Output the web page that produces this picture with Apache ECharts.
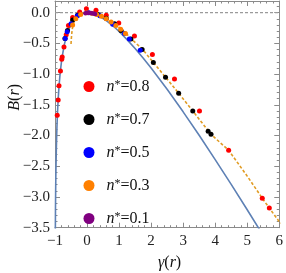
<!DOCTYPE html>
<html>
<head>
<meta charset="utf-8">
<script src="https://cdn.jsdelivr.net/npm/echarts@6/dist/echarts.min.js"></script>
<style>html,body{margin:0;padding:0;background:#fff}#c{width:286px;height:273px}</style>
</head>
<body>
<div id="c"></div>
<script>
// ---- data ----
const seriesNames = ['n*=0.8', 'n*=0.7', 'n*=0.5', 'n*=0.3', 'n*=0.1'];
const seriesColors = ['#ff0000', '#000000', '#0000ff', '#ff8000', '#800080'];

// solid blue curve (gamma, B)
const blueCurve = [[-0.99,-3.62],[-0.985,-3.21],[-0.98,-2.93],[-0.975,-2.71],[-0.97,-2.54],[-0.96,-2.26],[-0.95,-2.05],
  [-0.94,-1.87],[-0.93,-1.73],[-0.915,-1.55],[-0.90,-1.40],[-0.875,-1.20],[-0.85,-1.05],[-0.825,-0.92],[-0.80,-0.81],
  [-0.775,-0.72],[-0.75,-0.64],[-0.725,-0.57],[-0.70,-0.50],[-0.65,-0.40],[-0.60,-0.32],[-0.55,-0.25],[-0.50,-0.19],
  [-0.45,-0.15],[-0.40,-0.11],[-0.35,-0.081],[-0.30,-0.057],[-0.25,-0.038],[-0.20,-0.023],[-0.10,-0.005],[0,0],
  [0.1,-0.005],[0.2,-0.018],[0.3,-0.038],[0.4,-0.064],[0.5,-0.095],[0.6,-0.130],[0.7,-0.169],[0.8,-0.212],
  [0.9,-0.258],[1.0,-0.307],[1.25,-0.439],[1.5,-0.584],[1.75,-0.738],[2.0,-0.901],[2.5,-1.247],[3.0,-1.614],
  [3.5,-1.996],[4.0,-2.391],[4.5,-2.795],[5.0,-3.208],[5.5,-3.628]];

// dashed orange curve
const orangeCurve = [[-0.50,-0.51],[-0.49,-0.42],[-0.475,-0.33],[-0.455,-0.25],[-0.43,-0.19],[-0.40,-0.14],
  [-0.35,-0.09],[-0.30,-0.06],[-0.20,-0.02],[-0.10,0.0],[0,0.005],[0.1,0.003],[0.2,-0.005],[0.3,-0.02],[0.4,-0.04],
  [0.5,-0.065],[0.6,-0.10],[0.8,-0.16],[1.0,-0.24],[1.22,-0.34],[1.45,-0.46],[1.72,-0.59],[2.07,-0.81],
  [2.45,-1.05],[2.86,-1.31],[3.30,-1.60],[3.87,-1.98],[4.42,-2.24],[5.0,-2.66],[5.47,-3.02],[5.69,-3.18],[6.04,-3.43]];

const pts08 = [[-0.93,-1.67],[-0.90,-1.42],[-0.875,-1.19],[-0.83,-0.95],[-0.79,-0.76],[-0.775,-0.72],[-0.72,-0.56],
  [-0.65,-0.36],[-0.58,-0.21],[-0.45,-0.08],[-0.23,0.01],[-0.02,0.065],[0.28,0.04],[0.60,-0.04],[0.99,-0.17],
  [1.48,-0.38],[2.04,-0.68],[2.73,-1.08],[3.51,-1.60],[4.42,-2.24],[5.47,-3.02],[5.69,-3.18]];
const pts07 = [[-0.69,-0.42],[-0.61,-0.29],[-0.45,-0.12],[-0.30,-0.04],[0.35,-0.03],[0.60,-0.09],[0.86,-0.18],
  [1.06,-0.29],[1.37,-0.43],[1.72,-0.60],[2.07,-0.81],[2.45,-1.05],[2.86,-1.31],[3.30,-1.60],[3.78,-1.93],[3.87,-1.98]];
const pts05 = [[-0.68,-0.42],[-0.62,-0.31],[-0.50,-0.18],[-0.30,-0.05],[0.05,0.0],[0.40,-0.05],[0.80,-0.19],
  [1.17,-0.34],[1.32,-0.43],[1.66,-0.61]];
const pts03 = [[-0.45,-0.20],[-0.35,-0.10],[-0.20,-0.03],[0.0,0.0],[0.15,-0.01],[0.30,-0.03],[0.45,-0.06],
  [0.60,-0.10],[0.75,-0.15],[0.90,-0.21],[1.05,-0.27],[1.20,-0.34]];
const pts01 = [[-0.05,-0.01],[0.0,0.0],[0.05,0.0],[0.10,-0.005],[0.15,-0.01],[0.20,-0.015],[0.25,-0.02]];

const xTicks = [-1,0,1,2,3,4,5,6];
const yTicks = [-3.5,-3.0,-2.5,-2.0,-1.5,-1.0,-0.5,0.0];

// ---- chart ----
const FONT = 'Liberation Serif';
const frame = '#8a8a8a';
const fmtNum = (v, d) => (v < 0 ? '\u2212' : '') + Math.abs(v).toFixed(d);

function axisCommon(showLabel) {
  return {
    axisLine: {show: true, onZero: false, lineStyle: {color: frame, width: 1}},
    axisTick: {show: true, inside: true, length: 5, lineStyle: {color: frame}},
    minorTick: {show: true, splitNumber: 5, length: 2.5, lineStyle: {color: frame}},
    splitLine: {show: false},
    axisLabel: {show: showLabel, color: '#222', fontFamily: FONT, fontSize: 15}
  };
}

const chart = echarts.init(document.getElementById('c'), null, {renderer: 'canvas'});
const xMin = xTicks[0], xMax = xTicks[xTicks.length - 1];
const yMin = yTicks[0], yMax = 0.19;

const scatter = [pts08, pts07, pts05, pts03, pts01].map((d, i) => ({
  name: seriesNames[i], type: 'scatter', data: d, symbolSize: i === 4 ? 4.5 : 5,
  itemStyle: {color: seriesColors[i], opacity: 1}, z: 5, xAxisIndex: 0, yAxisIndex: 0
}));

chart.setOption({
  animation: false,
  grid: {left: 55, right: 4.5, top: 1, bottom: 45.3},
  xAxis: [
    Object.assign(axisCommon(true), {type: 'value', min: xMin, max: xMax, interval: 1, position: 'bottom',
      axisLabel: {show: true, color: '#222', fontFamily: FONT, fontSize: 15, margin: 6,
        formatter: v => fmtNum(v, 0)}}),
    Object.assign(axisCommon(false), {type: 'value', min: xMin, max: xMax, interval: 1, position: 'top'})
  ],
  yAxis: [
    Object.assign(axisCommon(true), {type: 'value', min: yMin, max: yMax, interval: 0.5, position: 'left',
      axisLabel: {show: true, color: '#222', fontFamily: FONT, fontSize: 15, margin: 5, showMaxLabel: false,
        formatter: v => v > 0.01 ? '' : fmtNum(v, 1)}}),
    Object.assign(axisCommon(false), {type: 'value', min: yMin, max: yMax, interval: 0.5, position: 'right'})
  ],
  legend: {
    data: seriesNames, orient: 'vertical', left: 78.5, top: 73.5, itemGap: 17,
    itemWidth: 11, itemHeight: 11, icon: 'circle', selectedMode: false,
    itemStyle: {opacity: 1},
    formatter: name => '{sp|}{i|n}{s|*}{r|' + name.slice(2) + '}',
    textStyle: {
      color: '#111', fontFamily: FONT, fontSize: 15,
      rich: {
        sp: {width: 7, fontSize: 15, lineHeight: 16},
        i: {fontFamily: FONT, fontStyle: 'italic', fontSize: 16, lineHeight: 16, color: '#111'},
        s: {fontFamily: FONT, fontSize: 12, lineHeight: 16, verticalAlign: 'top', color: '#111'},
        r: {fontFamily: FONT, fontSize: 16, lineHeight: 16, color: '#111'}
      }
    }
  },
  graphic: [
    {type: 'text', left: 7, top: 84, rotation: Math.PI / 2, originX: 0, originY: 0,
      style: {text: '{i|B}{n|(}{i|r}{n|)}', rich: {
        i: {fontFamily: FONT, fontStyle: 'italic', fontSize: 16, fill: '#111'},
        n: {fontFamily: FONT, fontSize: 16, fill: '#111'}}}},
    {type: 'text', left: 158, top: 255,
      style: {text: '{i|\u03b3}{n|(}{i|r}{n|)}', rich: {
        i: {fontFamily: FONT, fontStyle: 'italic', fontSize: 16, fill: '#111'},
        n: {fontFamily: FONT, fontSize: 16, fill: '#111'}}}}
  ],
  series: [
    {name: 'zero', type: 'line', data: [[xMin, 0], [xMax, 0]], symbol: 'none', silent: true,
      lineStyle: {color: '#9a9a9a', width: 1.2, type: [3, 2]}, z: 1},
    {name: 'theory', type: 'line', data: blueCurve, symbol: 'none', smooth: false,
      lineStyle: {color: '#5e81b5', width: 1.6}, z: 3},
    {name: 'fit', type: 'line', data: orangeCurve, symbol: 'none', smooth: false,
      lineStyle: {color: '#e19c24', width: 1.6, type: [3, 2]}, z: 4}
  ].concat(scatter)
});
</script>
</body>
</html>
